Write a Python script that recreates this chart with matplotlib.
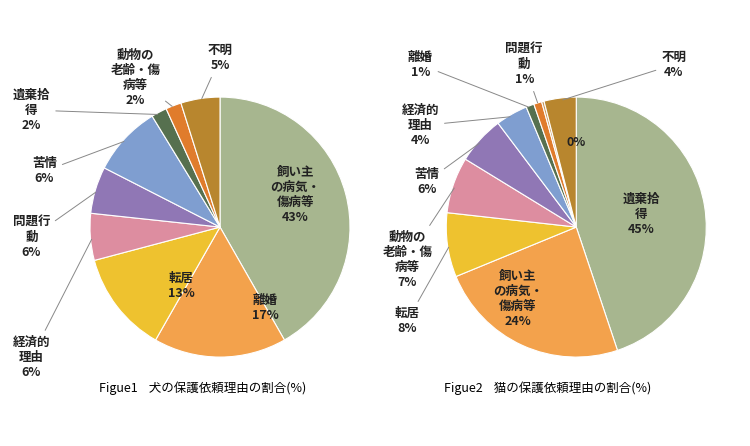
import numpy as np
import matplotlib.pyplot as plt

plt.rcParams["font.family"] = "Noto Sans CJK JP"

dog_labels = ["飼い主\nの病気・\n傷病等", "離婚", "転居", "経済的\n理由", "問題行\n動", "苦情", "遺棄拾\n得", "動物の\n老齢・傷\n病等", "不明"]
dog_values = [43, 17, 13, 6, 6, 9, 2, 2, 5]
dog_pct = ["43%", "17%", "13%", "6%", "6%", "6%", "2%", "2%", "5%"]

cat_labels = ["遺棄拾\n得", "飼い主\nの病気・\n傷病等", "転居", "動物の\n老齢・傷\n病等", "苦情", "経済的\n理由", "離婚", "問題行\n動", "", "不明"]
cat_values = [45, 24, 8, 7, 6, 4, 1, 1, 0.3, 4]
cat_pct = ["45%", "24%", "8%", "7%", "6%", "4%", "1%", "1%", "0%", "4%"]

colors = ["#a7b68f", "#f3a24c", "#eec22f", "#dd8da0", "#9077b5", "#7f9ed0",
          "#56704f", "#e07c2c", "#c99a5e", "#b8862e"]

fig = plt.figure(figsize=(7.5, 4.46), dpi=100)


def draw(ax, values, labels, pct, cols, pos, inside):
    wedges, _ = ax.pie(values, colors=cols, startangle=90, counterclock=False,
                       wedgeprops=dict(edgecolor="white", linewidth=0.8))
    ax.set_xlim(-1.75, 1.25)
    ax.set_ylim(-1.25, 1.45)
    ax.set_aspect("equal")
    for w, lab, p, xy, ins in zip(wedges, labels, pct, pos, inside):
        txt = (lab + "\n" + p) if lab else p
        ang = np.deg2rad((w.theta1 + w.theta2) / 2)
        ex, ey = np.cos(ang), np.sin(ang)
        if ins:
            ax.text(xy[0], xy[1], txt, ha="center", va="center", fontsize=9,
                    fontweight="bold", color="#222", linespacing=1.2)
        else:
            ax.annotate(txt, xy=(ex * 0.98, ey * 0.98), xytext=xy, ha="center",
                        va="center", fontsize=9, fontweight="bold", color="#222",
                        linespacing=1.2,
                        arrowprops=dict(arrowstyle="-", color="#888", lw=0.7))


ax1 = fig.add_axes([-0.01, 0.09, 0.52, 0.86])
draw(ax1, dog_values, dog_labels, dog_pct,
     [colors[0], colors[1], colors[2], colors[3], colors[4], colors[5], colors[6], colors[7], colors[9]],
     [(0.58, 0.25), (0.35, -0.62), (-0.3, -0.45), (-1.45, -1.0), (-1.45, -0.08),
      (-1.35, 0.43), (-1.45, 0.9), (-0.65, 1.15), (0.0, 1.3)],
     [True, True, True, False, False, False, False, False, False])

ax2 = fig.add_axes([0.465, 0.09, 0.52, 0.86])
draw(ax2, cat_values, cat_labels, cat_pct, colors,
     [(0.5, 0.1), (-0.45, -0.55), (-1.3, -0.72), (-1.3, -0.25), (-1.15, 0.35),
      (-1.2, 0.78), (-1.2, 1.25), (-0.4, 1.25), (0.0, 0.65), (0.75, 1.25)],
     [True, True, False, False, False, False, False, False, True, False])

fig.text(0.27, 0.12, "Figue1    犬の保護依頼理由の割合(%)", ha="center", fontsize=9)
fig.text(0.73, 0.12, "Figue2    猫の保護依頼理由の割合(%)", ha="center", fontsize=9)

fig.savefig("out.png", dpi=100, facecolor="white")
